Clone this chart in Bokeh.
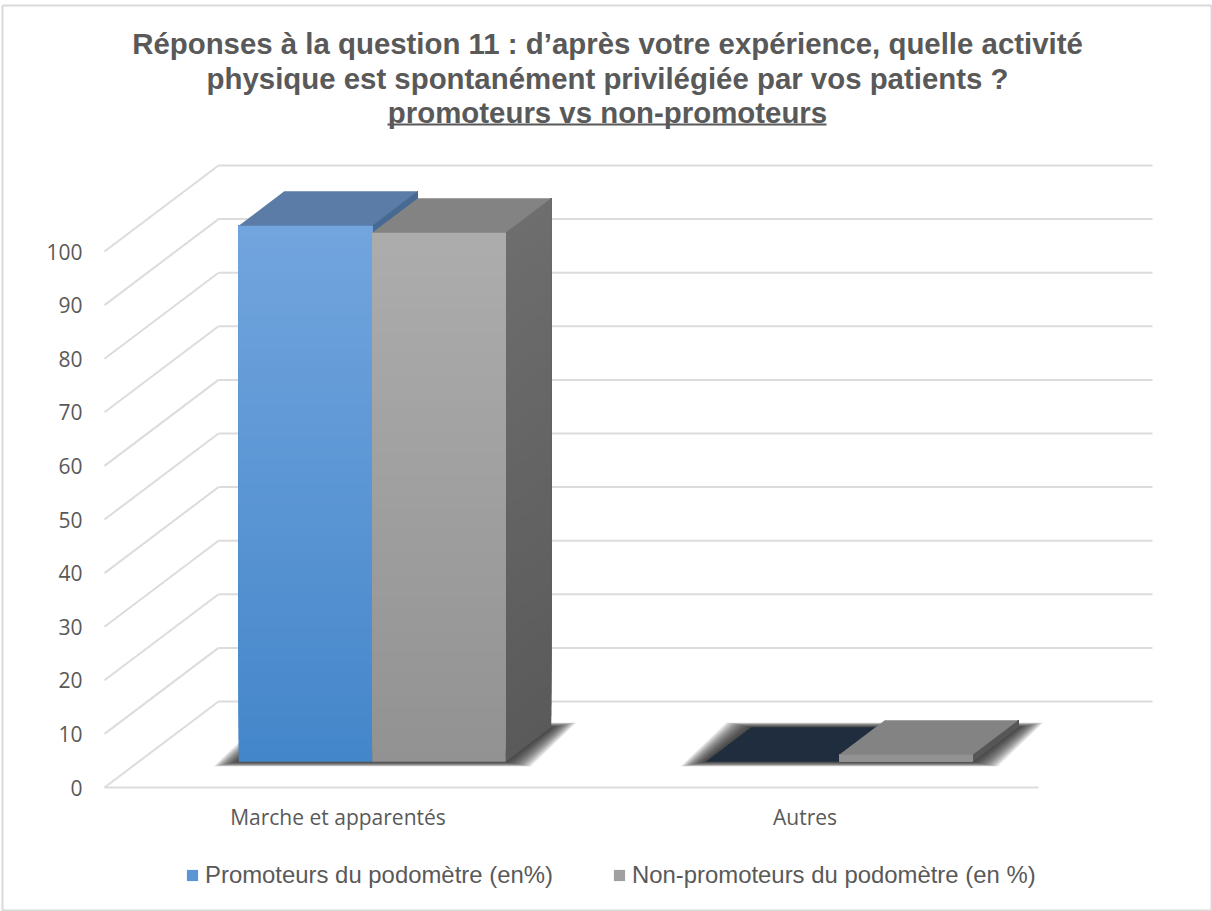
from bokeh.plotting import figure
from bokeh.embed import file_html
from bokeh.resources import INLINE
from bokeh.models import FixedTicker, Label, Legend, LegendItem, Range1d

# ---------- data ----------
categories = ["Marche et apparentés", "Autres"]
promoteurs = [100.0, 0.0]
non_promoteurs = [98.7, 1.3]
value_ticks = [0, 10, 20, 30, 40, 50, 60, 70, 80, 90, 100]
series_names = ["Promoteurs du podomètre (en%)", "Non-promoteurs du podomètre (en %)"]
title_lines = [
    "Réponses à la question 11 : d’après votre expérience, quelle activité",
    "physique est spontanément privilégiée par vos patients ?",
    "promoteurs vs non-promoteurs",
]

# ---------- geometry of the oblique 3D projection ----------
W, H = 1212, 911
LEFT, BASE = 104, 787          # pixel of value 0 / category 0 on the front plane
CAT_PX, VAL_PX = 467.0, 5.36   # pixels per category, per value unit
DEPTH_X, DEPTH_Y = 114 / CAT_PX, 86 / VAL_PX  # back wall offset in data units
Z0, Z1 = 0.30, 0.70            # depth extent of the bars
BAR_W = 133.5 / CAT_PX


def X(px):
    return (px - LEFT) / CAT_PX


def Y(py):
    return (BASE - py) / VAL_PX


def proj(x, v, z):
    return x + z * DEPTH_X, v + z * DEPTH_Y


def hexmix(a, b, t):
    ca = [int(a[i:i + 2], 16) for i in (1, 3, 5)]
    cb = [int(b[i:i + 2], 16) for i in (1, 3, 5)]
    return "#%02x%02x%02x" % tuple(round(p + (q - p) * t) for p, q in zip(ca, cb))


p = figure(
    width=W, height=H, output_backend="svg", toolbar_location=None,
    x_range=Range1d(X(0), X(W)), y_range=Range1d(Y(H), Y(0)),
    min_border_left=0, min_border_right=0, min_border_top=0, min_border_bottom=0,
    background_fill_color="white", border_fill_color="white", outline_line_color=None,
    margin=0,
)
p.grid.visible = False

# axes
GREY_TXT = "#595959"
ya = p.yaxis[0]
ya.fixed_location = 0
ya.ticker = FixedTicker(ticks=value_ticks)
ya.axis_line_color = None
ya.major_tick_line_color = None
ya.minor_tick_line_color = None
ya.major_label_text_font = "Open Sans"
ya.major_label_text_font_size = "21px"
ya.major_label_text_color = GREY_TXT
ya.major_label_standoff = 16

xa = p.xaxis[0]
xa.fixed_location = 0
xa.ticker = FixedTicker(ticks=[i + 0.5 for i in range(len(categories))])
xa.major_label_overrides = {i + 0.5: c for i, c in enumerate(categories)}
xa.axis_line_color = None
xa.major_tick_line_color = None
xa.minor_tick_line_color = None
xa.major_label_text_font = "Open Sans"
xa.major_label_text_font_size = "21px"
xa.major_label_text_color = GREY_TXT
xa.major_label_standoff = 9

# chart border
p.line([X(2), X(W - 1), X(W - 1), X(2), X(2)], [Y(5), Y(5), Y(H - 1), Y(H - 1), Y(5)],
       line_color="#d9d9d9", line_width=2)

# walls and floor
GRID = "#dcdcdc"
n_cat = len(categories)
for v in value_ticks:
    bx, by = proj(0, v, 1)
    p.line([0, bx], [v, by], line_color=GRID, line_width=2)
    p.line([bx, bx + n_cat], [by, by], line_color=GRID, line_width=2)
p.line([0, n_cat], [0, 0], line_color=GRID, line_width=2)

# soft shadows on the floor
LAYERS = 24
for i in range(n_cat):
    x0 = i + 0.5 - BAR_W
    x1 = i + 0.5 + BAR_W
    for k in range(LAYERS):
        e = (LAYERS - k) * 1.05 / CAT_PX
        d = (LAYERS - k) * 0.2 / VAL_PX
        corners = [proj(x0 - e, -d, Z0), proj(x1 + e, -d, Z0), proj(x1 + e, d, Z1), proj(x0 - e, d, Z1)]
        p.patch([c[0] for c in corners], [c[1] for c in corners],
                fill_color="#303030", fill_alpha=0.07, line_color=None)

# bars: each face is a stack of overlapping patches that gives the vertical gradient
STEPS = 48


def box(x0, x1, v, front, side, top, legend_store):
    fx, fy, fc, sx, sy, sc = [], [], [], [], [], []
    for s in range(STEPS):
        a, b = v * s / STEPS, v * (s + 1) / STEPS
        t = (a + b) / 2 / 100
        xa_, ya_ = proj(x0, a, Z0)
        xb_, yb_ = proj(x1, v, Z0)
        fx.append([xa_, xb_, xb_, xa_])
        fy.append([ya_, ya_, yb_, yb_])
        fc.append(hexmix(front[0], front[1], t))
        c = [proj(x1, a, Z0), proj(x1, a, Z1), proj(x1, v, Z1), proj(x1, v, Z0)]
        sx.append([q[0] for q in c])
        sy.append([q[1] for q in c])
        sc.append(hexmix(side[0], side[1], t))
    if v > 0:
        p.patches(sx, sy, fill_color=sc, line_color=None)
        r = p.patches(fx, fy, fill_color=fc, line_color=None)
        legend_store.append(r)
    c = [proj(x0, v, Z0), proj(x1, v, Z0), proj(x1, v, Z1), proj(x0, v, Z1)]
    p.patch([q[0] for q in c], [q[1] for q in c], fill_color=top, line_color=None)


store_a, store_b = [], []
for i in range(n_cat):
    c = i + 0.5
    top_a = "#5a7ca6" if promoteurs[i] > 0 else "#202d3e"
    box(c - BAR_W, c, promoteurs[i], ("#4486ca", "#72a5de"), ("#3d5f85", "#466a92"), top_a, store_a)
    box(c, c + BAR_W, non_promoteurs[i], ("#929292", "#adadad"), ("#5a5a5a", "#6e6e6e"), "#838383", store_b)

# title
TITLE_YS = [43, 78, 112]
for line, py in zip(title_lines, TITLE_YS):
    p.add_layout(Label(x=X(607), y=Y(py), text=line, text_align="center", text_baseline="middle",
                       text_font="Liberation Sans", text_font_style="bold", text_font_size="29.4px",
                       text_color=GREY_TXT))
p.segment(x0=[X(387)], y0=[Y(124)], x1=[X(826)], y1=[Y(124)], line_color=GREY_TXT, line_width=2)

# legend
legend = Legend(
    items=[LegendItem(label=series_names[0], renderers=[store_a[0]], index=STEPS // 2),
           LegendItem(label=series_names[1], renderers=[store_b[0]], index=STEPS // 2)],
    orientation="horizontal", location=(185, 22),
    border_line_color=None, background_fill_alpha=0,
    glyph_width=14, glyph_height=14, label_standoff=6, spacing=59, padding=8, margin=0,
    label_text_font="Liberation Sans", label_text_font_size="23.9px", label_text_color=GREY_TXT,
)
p.add_layout(legend)

open("out.html", "w").write(file_html(p, INLINE))
